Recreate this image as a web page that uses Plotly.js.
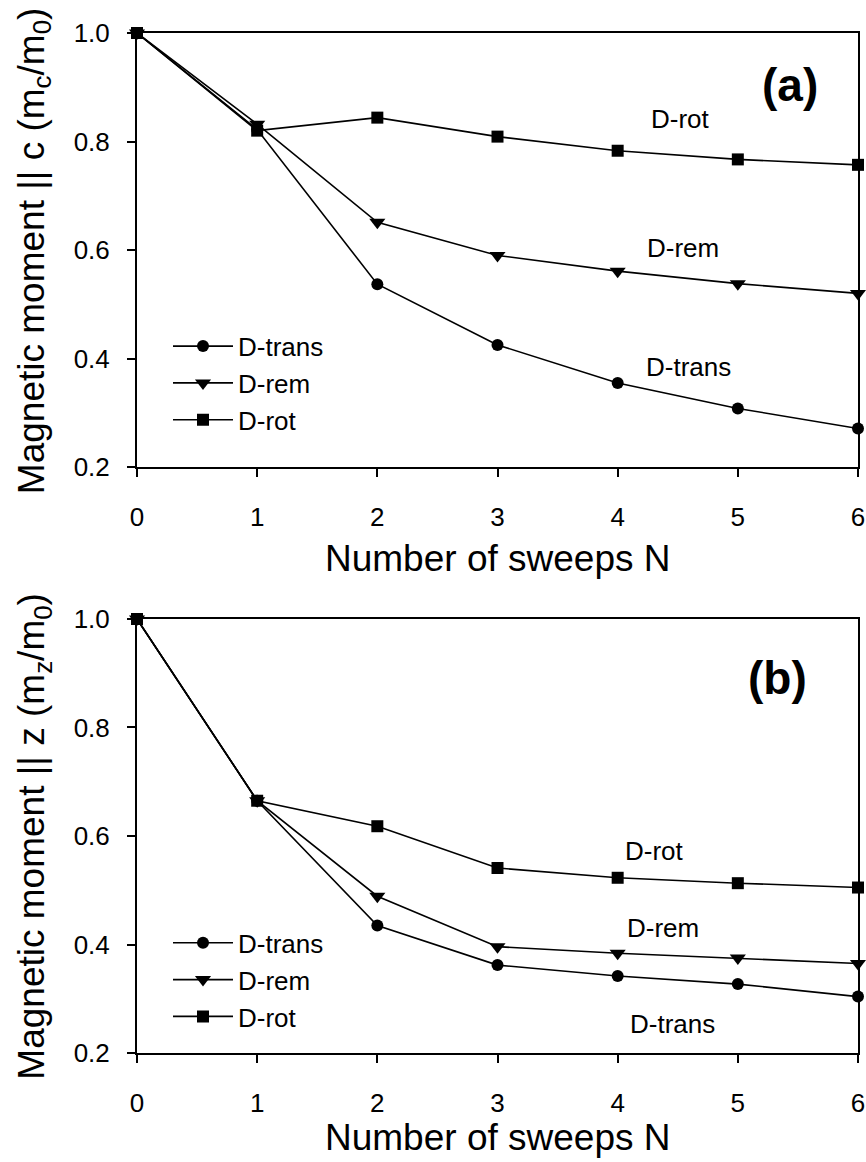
<!DOCTYPE html>
<html>
<head>
<meta charset="utf-8">
<script src="https://cdn.plot.ly/plotly-3.0.1.min.js"></script>
<style>
  html, body { margin: 0; padding: 0; background: #fff; }
  #chart { width: 866px; height: 1162px; }
</style>
</head>
<body>
<div id="chart"></div>
<script>
// Number of sweeps
const sweeps = [0, 1, 2, 3, 4, 5, 6];

// (a) magnetic moment along c, m_c/m_0
const cTrans = [1.000, 0.822, 0.537, 0.425, 0.355, 0.308, 0.271];
const cRem   = [1.000, 0.832, 0.651, 0.590, 0.561, 0.538, 0.520];
const cRot   = [1.000, 0.820, 0.844, 0.809, 0.783, 0.767, 0.757];

// (b) magnetic moment along z, m_z/m_0
const zTrans = [1.000, 0.665, 0.435, 0.362, 0.342, 0.327, 0.304];
const zRem   = [1.000, 0.665, 0.489, 0.396, 0.384, 0.375, 0.365];
const zRot   = [1.000, 0.665, 0.618, 0.541, 0.523, 0.513, 0.505];

const seriesNames = ['D-trans', 'D-rem', 'D-rot'];
const symbols = ['circle', 'triangle-down', 'square'];
const markerSizes = [12, 14, 12];
const xTicks = [0, 1, 2, 3, 4, 5, 6];
const yTicks = [0.2, 0.4, 0.6, 0.8, 1.0];

const FONT = 'Liberation Sans, Arial, sans-serif';

function makeTrace(y, i, xa, ya, legendId) {
  return {
    x: sweeps, y: y, name: seriesNames[i],
    xaxis: xa, yaxis: ya, legend: legendId,
    type: 'scatter', mode: 'lines+markers', cliponaxis: false,
    line: { color: '#000', width: 1.6 },
    marker: { symbol: symbols[i], size: markerSizes[i], color: '#000' }
  };
}

const traces = [
  makeTrace(cTrans, 0, 'x', 'y', 'legend'),
  makeTrace(cRem, 1, 'x', 'y', 'legend'),
  makeTrace(cRot, 2, 'x', 'y', 'legend'),
  makeTrace(zTrans, 0, 'x2', 'y2', 'legend2'),
  makeTrace(zRem, 1, 'x2', 'y2', 'legend2'),
  makeTrace(zRot, 2, 'x2', 'y2', 'legend2')
];

function xAxis(anchor) {
  return {
    anchor: anchor, domain: [0, 1], range: [0, 6],
    tickvals: xTicks, ticks: 'outside', ticklen: 8, tickwidth: 2, tickcolor: '#000',
    ticklabelstandoff: 18,
    showline: true, linecolor: '#000', linewidth: 2, mirror: true,
    showgrid: false, zeroline: false,
    tickfont: { family: FONT, size: 26, color: '#000' }
  };
}
function yAxis(anchor, domain) {
  return {
    anchor: anchor, domain: domain, range: [0.2, 1.0],
    tickvals: yTicks, tickformat: '.1f',
    ticks: 'outside', ticklen: 8, tickwidth: 2, tickcolor: '#000',
    ticklabelstandoff: 12,
    showline: true, linecolor: '#000', linewidth: 2, mirror: true,
    showgrid: false, zeroline: false,
    tickfont: { family: FONT, size: 26, color: '#000' }
  };
}

const labelFont = { family: FONT, size: 26, color: '#000' };
const titleFont = { family: FONT, size: 37, color: '#000' };
const panelFont = { family: FONT, size: 46, color: '#000', weight: 'bold' };

function note(text, x, y, xref, yref, font, extra) {
  return Object.assign({ text: text, x: x, y: y, xref: xref, yref: yref,
    showarrow: false, font: font, xanchor: 'center', yanchor: 'middle' }, extra || {});
}

const legendBase = {
  xanchor: 'left', yanchor: 'top', itemwidth: 60,
  bgcolor: 'rgba(0,0,0,0)', borderwidth: 0, tracegroupgap: 0,
  font: labelFont
};

const layout = {
  width: 866, height: 1162,
  margin: { l: 137, r: 8, t: 33, b: 109 },
  paper_bgcolor: '#fff', plot_bgcolor: '#fff',
  font: { family: FONT, color: '#000' },
  xaxis: xAxis('y'),
  yaxis: yAxis('x', [0.5745, 1]),
  xaxis2: xAxis('y2'),
  yaxis2: yAxis('x2', [0, 0.4255]),
  legend: Object.assign({ x: 0.043, y: 0.716 }, legendBase),
  legend2: Object.assign({ x: 0.043, y: 0.131 }, legendBase),
  annotations: [
    note('<b>(a)</b>', 5.43, 0.905, 'x', 'y', panelFont),
    note('D-rot', 4.52, 0.842, 'x', 'y', labelFont),
    note('D-rem', 4.54, 0.604, 'x', 'y', labelFont),
    note('D-trans', 4.59, 0.385, 'x', 'y', labelFont),
    note('<b>(b)</b>', 5.33, 0.891, 'x2', 'y2', panelFont),
    note('D-rot', 4.31, 0.572, 'x2', 'y2', labelFont),
    note('D-rem', 4.38, 0.430, 'x2', 'y2', labelFont),
    note('D-trans', 4.46, 0.253, 'x2', 'y2', labelFont),
    note('Number of sweeps N', 0.5, 0.485, 'paper', 'paper', titleFont),
    note('Number of sweeps N', 0.5, -0.083, 'paper', 'paper', titleFont),
    note('Magnetic moment || c (m<sub>c</sub>/m<sub>0</sub>)', -0.143, 0.787, 'paper', 'paper', titleFont, { textangle: -90 }),
    note('Magnetic moment || z (m<sub>z</sub>/m<sub>0</sub>)', -0.143, 0.213, 'paper', 'paper', titleFont, { textangle: -90 })
  ],
  showlegend: true
};

Plotly.newPlot('chart', traces, layout, { staticPlot: true, displayModeBar: false });
</script>
</body>
</html>
